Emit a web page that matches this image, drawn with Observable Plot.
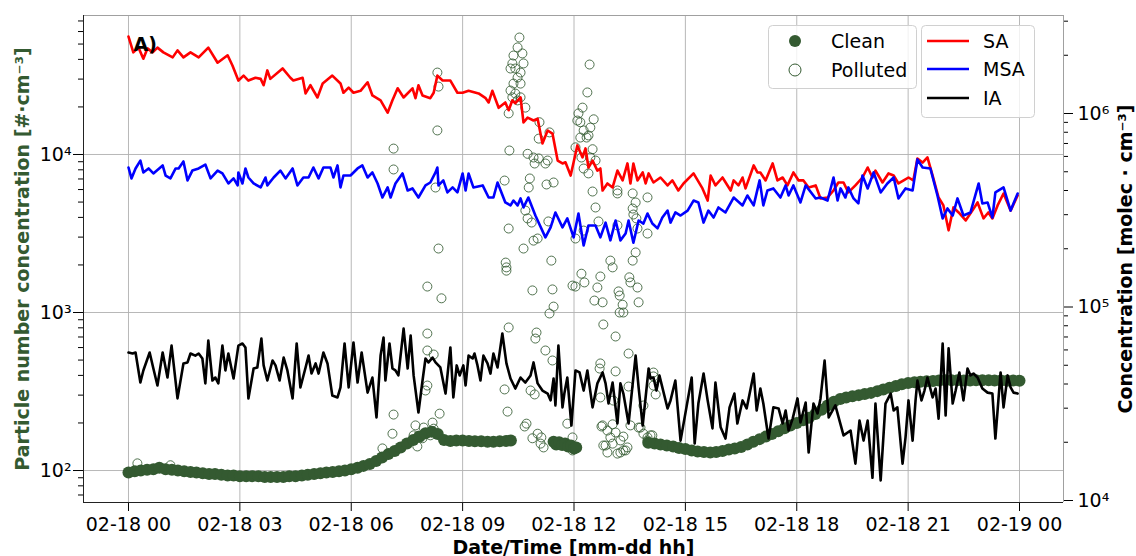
<!DOCTYPE html>
<html><head><meta charset="utf-8">
<script src="https://cdn.jsdelivr.net/npm/d3@7"></script>
<script src="https://cdn.jsdelivr.net/npm/@observablehq/plot@0.6"></script>
<style>
body{margin:0;background:#fff;}
#wrap{position:relative;width:1136px;height:556px;font-family:"DejaVu Sans",sans-serif;}
</style></head><body><div id="wrap"></div>
<script>
// ---- data: time in hours since 02-18 00:00 ----
const xTickHours = [0,3,6,9,12,15,18,21,24];
const leftMajor = [100,1000,10000];
const leftMinor = [70,80,90,200,300,400,500,600,700,800,900,2000,3000,4000,5000,6000,7000,8000,9000,20000,30000,40000,50000,60000,70000];
const rightMajor = [1e4,1e5,1e6];
const rightMinor = [2e4,3e4,4e4,5e4,6e4,7e4,8e4,9e4,2e5,3e5,4e5,5e5,6e5,7e5,8e5,9e5,2e6,3e6];
const legendScatter = ["Clean","Polluted"];
const legendLines = ["SA","MSA","IA"];

// SA [h, molec cm-3]
const saSeries = [[0.00,2.50e6],[0.13,2.07e6],[0.27,2.19e6],[0.40,1.92e6],[0.51,2.17e6],[0.65,2.07e6],[0.78,2.19e6],[0.94,2.07e6],[1.19,1.95e6],[1.32,2.12e6],[1.48,1.95e6],[1.67,2.07e6],[1.89,1.95e6],[2.15,2.19e6],[2.40,1.83e6],[2.67,2.0e6],[2.80,1.77e6],[2.96,1.48e6],[3.10,1.57e6],[3.23,1.48e6],[3.42,1.53e6],[3.56,1.51e6],[3.64,1.40e6],[3.74,1.67e6],[3.82,1.51e6],[4.15,1.71e6],[4.36,1.53e6],[4.44,1.48e6],[4.69,1.53e6],[4.77,1.27e6],[4.90,1.40e6],[5.09,1.21e6],[5.23,1.43e6],[5.49,1.57e6],[5.71,1.43e6],[5.79,1.28e6],[5.93,1.36e6],[6.06,1.28e6],[6.25,1.31e6],[6.44,1.45e6],[6.57,1.24e6],[6.79,1.17e6],[6.98,1.01e6],[7.11,1.17e6],[7.25,1.35e6],[7.41,1.21e6],[7.65,1.35e6],[7.73,1.20e6],[7.81,1.40e6],[7.92,1.24e6],[8.13,1.20e6],[8.22,1.28e6],[8.32,1.57e6],[8.46,1.48e6],[8.67,1.48e6],[8.86,1.28e6],[9.00,1.28e6],[9.16,1.31e6],[9.43,1.27e6],[9.62,1.20e6],[9.70,1.14e6],[9.80,1.31e6],[9.97,1.07e6],[10.15,1.14e6],[10.24,1.04e6],[10.34,1.17e6],[10.42,1.13e6],[10.56,1.21e6],[10.64,8.98e5],[10.75,9.53e5],[10.91,9.2e5],[11.02,9.4e5],[11.15,7.0e5],[11.29,8.17e5],[11.42,7.88e5],[11.56,5.71e5],[11.69,5.52e5],[11.77,5.6e5],[11.91,4.78e5],[12.09,6.84e5],[12.23,5.93e5],[12.31,6.6e5],[12.39,5.26e5],[12.50,5.71e5],[12.63,5.07e5],[12.71,5.2e5],[12.77,4.0e5],[12.90,4.35e5],[13.04,4.15e5],[13.17,5.07e5],[13.31,4.51e5],[13.44,5.52e5],[13.52,4.35e5],[13.60,5.52e5],[13.71,4.51e5],[13.85,4.96e5],[13.93,4.35e5],[14.01,4.9e5],[14.14,4.4e5],[14.33,4.67e5],[14.52,4.25e5],[14.65,4.51e5],[14.81,4.0e5],[14.95,4.35e5],[15.22,4.9e5],[15.46,4.1e5],[15.60,3.55e5],[15.68,4.78e5],[15.81,4.25e5],[16.00,4.67e5],[16.22,4.0e5],[16.30,4.51e5],[16.43,4.25e5],[16.54,4.67e5],[16.62,4.1e5],[16.84,5.39e5],[16.94,4.96e5],[17.02,4.96e5],[17.16,4.51e5],[17.35,5.52e5],[17.48,4.51e5],[17.62,4.67e5],[17.75,4.25e5],[17.91,4.96e5],[18.05,4.51e5],[18.18,4.51e5],[18.32,4.15e5],[18.51,4.25e5],[18.64,3.64e5],[18.83,3.68e5],[18.99,4.0e5],[19.12,4.4e5],[19.26,4.4e5],[19.39,3.91e5],[19.58,4.25e5],[19.77,4.67e5],[19.91,5.26e5],[20.04,4.67e5],[20.12,5.07e5],[20.31,4.4e5],[20.47,4.9e5],[20.61,4.78e5],[20.74,4.35e5],[20.88,4.51e5],[21.01,4.67e5],[21.14,4.51e5],[21.25,5.85e5],[21.39,5.58e5],[21.52,5.93e5],[21.66,4.78e5],[21.82,3.68e5],[21.95,3.35e5],[22.09,2.49e5],[22.22,3.27e5],[22.36,3.08e5],[22.55,2.80e5],[22.73,3.15e5],[22.87,3.47e5],[23.03,2.87e5],[23.16,3.08e5],[23.27,2.87e5],[23.41,3.35e5],[23.57,3.86e5],[23.76,3.15e5],[23.95,3.77e5]];

// MSA [h, molec cm-3]
const msaSeries = [[0.00,5.26e5],[0.08,4.62e5],[0.19,5.20e5],[0.32,5.71e5],[0.40,4.96e5],[0.54,5.20e5],[0.67,4.90e5],[0.92,5.39e5],[1.00,4.78e5],[1.13,4.62e5],[1.27,5.20e5],[1.35,5.20e5],[1.48,5.65e5],[1.59,4.51e5],[1.72,5.07e5],[1.89,5.20e5],[2.07,5.45e5],[2.21,4.62e5],[2.40,5.07e5],[2.53,4.90e5],[2.69,4.35e5],[2.83,4.62e5],[2.94,4.25e5],[2.96,4.96e5],[3.07,4.35e5],[3.15,5.20e5],[3.23,4.67e5],[3.37,4.35e5],[3.56,4.15e5],[3.69,4.67e5],[3.74,4.25e5],[3.91,4.67e5],[4.09,5.07e5],[4.23,4.62e5],[4.42,5.20e5],[4.55,4.25e5],[4.71,4.67e5],[4.85,4.67e5],[4.98,5.26e5],[5.12,4.62e5],[5.25,5.26e5],[5.44,5.26e5],[5.52,4.67e5],[5.63,5.39e5],[5.71,4.15e5],[5.79,4.78e5],[5.98,4.78e5],[6.17,5.20e5],[6.30,5.39e5],[6.44,4.67e5],[6.57,4.96e5],[6.71,4.35e5],[6.84,3.68e5],[6.98,4.15e5],[7.06,3.68e5],[7.19,4.35e5],[7.38,4.90e5],[7.52,4.0e5],[7.65,4.10e5],[7.81,3.68e5],[8.00,4.25e5],[8.13,4.40e5],[8.27,4.96e5],[8.32,5.26e5],[8.35,4.25e5],[8.48,4.51e5],[8.59,3.91e5],[8.73,4.15e5],[8.86,3.91e5],[9.00,4.90e5],[9.08,4.0e5],[9.16,4.90e5],[9.29,4.15e5],[9.54,4.25e5],[9.70,3.68e5],[9.83,3.68e5],[9.94,4.40e5],[10.15,3.47e5],[10.29,3.35e5],[10.37,3.55e5],[10.48,3.35e5],[10.56,3.64e5],[10.64,3.27e5],[10.77,3.68e5],[10.96,2.97e5],[11.23,2.29e5],[11.37,2.58e5],[11.50,3.08e5],[11.69,2.58e5],[11.82,2.87e5],[11.99,2.29e5],[12.12,3.04e5],[12.26,2.08e5],[12.39,2.64e5],[12.58,2.64e5],[12.71,2.29e5],[12.85,2.73e5],[12.98,2.21e5],[13.12,2.80e5],[13.25,2.21e5],[13.39,2.40e5],[13.47,2.80e5],[13.60,2.15e5],[13.74,2.80e5],[13.87,2.70e5],[13.98,3.04e5],[14.11,2.70e5],[14.25,2.55e5],[14.38,2.90e5],[14.52,3.15e5],[14.60,2.73e5],[14.73,3.08e5],[14.87,2.97e5],[15.06,3.15e5],[15.22,3.55e5],[15.35,3.47e5],[15.49,2.73e5],[15.62,3.15e5],[15.76,2.90e5],[15.89,3.27e5],[16.08,3.08e5],[16.30,3.68e5],[16.54,3.35e5],[16.67,3.77e5],[16.84,3.35e5],[17.00,4.51e5],[17.10,3.35e5],[17.21,4.0e5],[17.37,4.10e5],[17.56,3.68e5],[17.70,4.25e5],[17.78,3.77e5],[17.91,4.25e5],[18.10,3.47e5],[18.24,4.25e5],[18.51,3.64e5],[18.64,3.68e5],[18.83,3.55e5],[18.99,4.67e5],[19.10,3.55e5],[19.18,4.10e5],[19.31,3.68e5],[19.39,4.15e5],[19.53,3.64e5],[19.66,3.43e5],[19.77,4.78e5],[19.91,4.10e5],[20.07,4.96e5],[20.26,3.91e5],[20.44,4.35e5],[20.61,4.67e5],[20.74,3.64e5],[20.93,4.10e5],[21.12,4.0e5],[21.25,5.79e5],[21.39,5.26e5],[21.60,5.20e5],[21.79,3.77e5],[21.93,2.87e5],[22.06,3.23e5],[22.20,2.97e5],[22.33,3.64e5],[22.49,2.97e5],[22.68,3.08e5],[22.90,4.35e5],[23.00,3.43e5],[23.14,3.47e5],[23.27,2.90e5],[23.35,3.91e5],[23.57,4.15e5],[23.76,3.15e5],[23.95,3.86e5]];

// IA [h, molec cm-3]
const iaSeries = [[0.00,5.82e4],[0.11,5.75e4],[0.19,5.82e4],[0.32,4.07e4],[0.40,4.70e4],[0.57,5.82e4],[0.67,4.81e4],[0.78,3.93e4],[0.92,5.82e4],[1.05,4.32e4],[1.16,6.32e4],[1.32,3.37e4],[1.48,5.11e4],[1.59,5.17e4],[1.67,5.75e4],[1.80,5.61e4],[1.89,5.75e4],[1.99,5.42e4],[2.07,4.03e4],[2.15,6.71e4],[2.26,4.17e4],[2.34,4.32e4],[2.42,4.03e4],[2.53,6.32e4],[2.61,4.70e4],[2.69,5.75e4],[2.83,4.27e4],[2.96,6.32e4],[3.07,6.48e4],[3.15,6.18e4],[3.23,3.37e4],[3.37,4.81e4],[3.47,4.87e4],[3.58,6.87e4],[3.64,4.99e4],[3.74,4.17e4],[3.88,5.29e4],[3.96,4.99e4],[4.07,4.17e4],[4.18,5.48e4],[4.28,4.70e4],[4.42,3.37e4],[4.53,6.48e4],[4.63,3.84e4],[4.77,4.87e4],[4.85,5.61e4],[4.93,4.53e4],[5.04,5.11e4],[5.12,4.53e4],[5.25,5.82e4],[5.36,5.11e4],[5.49,3.49e4],[5.63,3.41e4],[5.71,3.84e4],[5.82,6.48e4],[5.93,3.84e4],[6.06,6.56e4],[6.17,4.07e4],[6.28,5.82e4],[6.44,3.61e4],[6.57,4.32e4],[6.68,2.69e4],[6.79,5.61e4],[6.87,6.95e4],[6.92,4.17e4],[7.03,6.48e4],[7.11,4.81e4],[7.19,4.70e4],[7.27,4.43e4],[7.41,7.74e4],[7.52,4.81e4],[7.60,7.12e4],[7.68,4.43e4],[7.81,2.85e4],[7.92,4.17e4],[8.00,5.42e4],[8.08,5.17e4],[8.19,5.48e4],[8.27,5.17e4],[8.40,4.87e4],[8.54,3.57e4],[8.67,6.18e4],[8.75,3.41e4],[8.84,4.99e4],[8.92,4.43e4],[9.02,4.99e4],[9.08,3.93e4],[9.16,5.61e4],[9.27,5.42e4],[9.32,5.75e4],[9.40,4.99e4],[9.48,4.17e4],[9.56,5.61e4],[9.67,5.11e4],[9.75,4.53e4],[9.83,5.75e4],[9.94,4.87e4],[10.07,7.30e4],[10.18,5.11e4],[10.29,4.27e4],[10.42,3.79e4],[10.56,4.32e4],[10.69,4.07e4],[10.83,4.43e4],[10.91,5.17e4],[11.02,4.03e4],[11.15,3.70e4],[11.29,3.57e4],[11.37,3.29e4],[11.45,4.27e4],[11.50,3.10e4],[11.58,6.32e4],[11.69,3.03e4],[11.74,3.57e4],[11.82,4.32e4],[11.93,2.44e4],[12.04,4.70e4],[12.15,4.59e4],[12.26,3.70e4],[12.36,4.70e4],[12.50,3.03e4],[12.63,4.03e4],[12.77,4.59e4],[12.85,4.03e4],[12.93,3.17e4],[13.04,4.07e4],[13.17,2.50e4],[13.25,4.03e4],[13.33,3.57e4],[13.47,2.50e4],[13.66,5.61e4],[13.74,3.84e4],[13.85,2.44e4],[14.01,4.81e4],[14.06,4.27e4],[14.14,4.32e4],[14.22,3.70e4],[14.30,4.43e4],[14.52,2.99e4],[14.60,3.29e4],[14.73,4.17e4],[14.87,2.04e4],[15.00,2.82e4],[15.17,4.32e4],[15.25,1.97e4],[15.35,3.17e4],[15.49,4.53e4],[15.60,3.29e4],[15.73,2.36e4],[15.81,4.07e4],[15.95,2.39e4],[16.08,2.09e4],[16.19,3.03e4],[16.32,3.57e4],[16.40,2.50e4],[16.54,3.29e4],[16.65,2.99e4],[16.84,4.53e4],[16.92,2.92e4],[17.02,3.79e4],[17.10,3.17e4],[17.24,2.09e4],[17.37,3.03e4],[17.51,2.99e4],[17.62,2.50e4],[17.70,2.92e4],[17.78,2.30e4],[17.89,2.65e4],[18.02,3.37e4],[18.10,2.53e4],[18.24,3.21e4],[18.32,1.77e4],[18.45,3.17e4],[18.56,2.82e4],[18.64,3.37e4],[18.75,5.29e4],[18.86,2.69e4],[19.04,3.10e4],[19.26,2.17e4],[19.45,2.30e4],[19.58,1.55e4],[19.69,2.59e4],[19.80,2.04e4],[19.91,2.59e4],[20.04,1.31e4],[20.12,3.17e4],[20.26,1.27e4],[20.39,3.17e4],[20.53,3.57e4],[20.61,2.92e4],[20.71,3.03e4],[20.85,1.55e4],[20.93,2.12e4],[21.01,3.29e4],[21.12,2.04e4],[21.20,3.29e4],[21.25,4.17e4],[21.36,3.29e4],[21.44,3.70e4],[21.52,4.32e4],[21.66,3.41e4],[21.74,3.79e4],[21.82,2.65e4],[21.93,6.48e4],[22.01,2.75e4],[22.09,6.11e4],[22.20,3.17e4],[22.28,3.70e4],[22.38,4.59e4],[22.49,3.29e4],[22.60,4.81e4],[22.68,4.43e4],[22.76,4.53e4],[22.87,4.32e4],[23.00,3.79e4],[23.14,3.61e4],[23.27,3.57e4],[23.35,2.09e4],[23.49,4.59e4],[23.57,3.03e4],[23.68,4.43e4],[23.76,3.84e4],[23.84,3.61e4],[23.95,3.57e4]];

// Clean particle number concentration [h, # cm-3]
const cleanSeries = [[0.0,97],[0.17,99],[0.33,100],[0.5,101],[0.67,102],[0.83,104],[1.0,102],[1.17,101],[1.33,100],[1.5,99],[1.67,98],[1.83,97],[2.0,96],[2.17,95],[2.33,95],[2.5,94],[2.67,93],[2.83,93],[3.0,92],[3.17,92],[3.33,92],[3.5,92],[3.67,91],[3.83,91],[4.0,91],[4.17,91],[4.33,92],[4.5,92],[4.67,93],[4.83,94],[5.0,95],[5.17,96],[5.33,97],[5.5,98],[5.67,99],[5.83,100],[6.0,102],[6.17,104],[6.33,107],[6.5,110],[6.67,115],[6.83,121],[7.0,127],[7.17,133],[7.33,140],[7.5,148],[7.67,156],[7.83,164],[8.0,172],[8.17,176],[8.33,170],[8.5,156],[8.67,154],[8.83,155],[9.0,155],[9.17,154],[9.33,153],[9.5,153],[9.67,152],[9.83,152],[10.0,153],[10.17,154],[10.3,155],
[11.45,152],[11.52,146],[11.6,151],[11.68,145],[11.76,148],[11.84,142],[11.92,144],[12.0,138],[12.06,140],
[14.0,150],[14.17,148],[14.33,146],[14.5,144],[14.67,142],[14.83,139],[15.0,137],[15.17,134],[15.33,132],[15.5,131],[15.67,130],[15.83,131],[16.0,133],[16.17,136],[16.33,138],[16.5,141],[16.67,146],[16.83,152],[17.0,158],[17.17,164],[17.33,170],[17.5,177],[17.67,185],[17.83,193],[18.0,200],[18.17,208],[18.33,216],[18.5,228],[18.67,242],[18.83,258],[19.0,272],[19.17,284],[19.33,290],[19.5,295],[19.67,300],[19.83,305],[20.0,310],[20.17,318],[20.33,326],[20.5,334],[20.67,343],[20.83,352],[21.0,358],[21.17,362],[21.33,365],[21.5,367],[21.67,369],[21.83,371],[22.0,372],[22.17,372],[22.33,372],[22.5,371],[22.67,371],[22.83,372],[23.0,373],[23.17,372],[23.33,371],[23.5,371],[23.67,370],[23.83,371],[24.0,370]];

// Polluted particle number concentration [h, # cm-3]
const pollutedSeries = [[0.24,111],[1.13,108],[6.84,138],[7.11,171],[7.14,226],[7.14,8040],[7.14,10900],[7.68,167],[7.73,193],[7.78,142],[7.87,162],[7.92,160],[7.95,187],[8.0,321],[8.05,345],[8.05,575],[8.05,736],[8.05,1460],[8.13,167],[8.19,201],[8.22,184],[8.22,542],[8.27,6180],[8.32,33000],[8.32,14200],[8.35,26900],[8.35,2540],[8.38,229],[8.43,1230],
[10.13,326],[10.13,6840],[10.16,2070],[10.18,1930],[10.18,1840],[10.21,236],[10.24,804],[10.24,3400],[10.24,18200],[10.26,10600],[10.29,35000],[10.29,25400],[10.34,37700],[10.34,23000],[10.37,42300],[10.37,28100],[10.42,35000],[10.42,24300],[10.48,47600],[10.48,30700],[10.48,22000],[10.53,55000],[10.56,33000],[10.56,28100],[10.56,23000],[10.61,43600],[10.64,37700],[10.64,2540],[10.67,190],[10.69,19800],[10.69,4420],[10.72,198],[10.75,10100],[10.75,3940],[10.78,6180],[10.81,7050],[10.83,321],[10.86,3710],[10.88,1380],[10.88,160],[10.91,9570],[10.91,2850],[10.94,8770],[10.94,303],[10.96,684],[10.99,747],[11.02,2940],[11.02,171],[11.05,12600],[11.05,9440],[11.07,16000],[11.10,148],[11.12,162],[11.18,140],[11.23,8770],[11.23,575],[11.26,6460],[11.29,9160],[11.31,3770],[11.34,13800],[11.34,986],[11.39,2130],[11.42,1400],[11.42,497],[11.45,6650],[11.45,1090],
[11.82,198],[11.96,1480],[11.96,162],[11.96,134],[12.04,11100],[12.04,2940],[12.04,1460],[12.09,16400],[12.12,18200],[12.17,16000],[12.17,12800],[12.20,9570],[12.20,1760],[12.23,19800],[12.26,14200],[12.26,8150],[12.26,3300],[12.28,1550],[12.34,12800],[12.36,24700],[12.39,13200],[12.39,7590],[12.42,37100],[12.44,14800],[12.44,9570],[12.50,10800],[12.50,5830],[12.53,16700],[12.55,1190],[12.58,9160],[12.58,4620],[12.63,1440],[12.66,3770],[12.69,442],[12.71,1690],[12.71,476],[12.71,290],[12.74,190],[12.77,1160],[12.77,193],[12.79,840],[12.79,144],[12.85,144],[12.90,179],[12.90,130],[12.98,2130],[12.98,162],[13.04,1930],[13.04,196],[13.04,148],[13.06,277],[13.12,705],[13.12,424],[13.12,174],[13.17,5920],[13.17,5670],[13.17,3560],[13.17,128],[13.20,1360],[13.23,1280],[13.23,1000],[13.25,155],[13.25,130],[13.31,1120],[13.33,1000],[13.33,164],[13.33,134],[13.39,134],[13.44,140],[13.47,550],[13.47,340],[13.49,1670],[13.52,1550],[13.52,193],[13.58,5670],[13.58,4550],[13.58,2130],[13.60,4170],[13.66,4970],[13.66,2400],[13.68,3940],[13.71,3400],[13.71,1440],[13.74,1160],[13.74,187],[13.79,187],[13.87,258],[13.87,171],[13.98,5350],[13.98,3160],[13.98,162],[13.98,155],[14.06,167],[14.11,167],[14.14,417],[14.14,394],[14.14,345],[14.20,303]];

// ---- scales ----
const T0 = Date.UTC(2020, 1, 18);
const t = h => new Date(T0 + h * 3600000);
const xMinH = -1.212, xMaxH = 25.185, pxPerHour = 37.125;
const leftDomain = [62.75, 75800];
const rightDomain = [9765, 3.21e6];
const L0 = Math.log10(leftDomain[0]), L1 = Math.log10(leftDomain[1]);
const R0 = Math.log10(rightDomain[0]), R1 = Math.log10(rightDomain[1]);
const toLeft = v => Math.pow(10, L0 + (Math.log10(v) - R0) / (R1 - R0) * (L1 - L0));
const supDigits = {"0":"⁰","1":"¹","2":"²","3":"³","4":"⁴","5":"⁵","6":"⁶","7":"⁷","8":"⁸","9":"⁹"};
const pow10 = v => "10" + String(Math.round(Math.log10(v))).split("").map(c => supDigits[c]).join("");

const green = "#345a31";
const fx = d => t(d[0]);
const rightEdge = t(xMaxH);

const chart = Plot.plot({
  width: 1136, height: 556,
  marginLeft: 83, marginRight: 73, marginTop: 15, marginBottom: 54,
  style: {fontFamily: '"DejaVu Sans", sans-serif', fontSize: "19px", background: "white", color: "black", overflow: "visible"},
  x: {type: "utc", domain: [t(xMinH), t(xMaxH)]},
  y: {type: "log", domain: leftDomain},
  marks: [
    Plot.gridX(xTickHours.map(t), {stroke: "#b0b0b0", strokeOpacity: 1, strokeWidth: 0.9}),
    Plot.gridY(leftMajor, {stroke: "#b0b0b0", strokeOpacity: 1, strokeWidth: 0.9}),
    Plot.dot(cleanSeries, {x: fx, y: d => d[1], r: 6, fill: green, stroke: null}),
    Plot.dot(pollutedSeries, {x: fx, y: d => d[1], r: 4.5, fill: "none", stroke: green, strokeWidth: 1, strokeOpacity: 0.85}),
    Plot.line(saSeries, {x: fx, y: d => toLeft(d[1]), stroke: "#ff0000", strokeWidth: 2.6}),
    Plot.line(msaSeries, {x: fx, y: d => toLeft(d[1]), stroke: "#0000ff", strokeWidth: 2.6}),
    Plot.line(iaSeries, {x: fx, y: d => toLeft(d[1]), stroke: "#000000", strokeWidth: 2.6}),
    Plot.axisX(xTickHours.map(t), {tickFormat: d3.utcFormat("%m-%d %H"), tickSize: 9, tickPadding: 6, fontSize: 19, label: null}),
    Plot.axisY(leftMajor, {anchor: "left", tickSize: 10, tickPadding: 2, fontSize: 19, tickFormat: pow10, label: null}),
    Plot.axisY(leftMinor, {anchor: "left", tickSize: 5, tickFormat: () => "", label: null}),
    // right axis (second scale), drawn through the y scale after mapping
    Plot.ruleY(rightMajor, {y: toLeft, x1: rightEdge, x2: t(xMaxH + 10 / pxPerHour), stroke: "black", strokeWidth: 1}),
    Plot.ruleY(rightMinor, {y: toLeft, x1: rightEdge, x2: t(xMaxH + 5 / pxPerHour), stroke: "black", strokeWidth: 1}),
    Plot.text(rightMajor, {y: toLeft, x: t(xMaxH + 14 / pxPerHour), text: pow10, textAnchor: "start", lineAnchor: "middle", fontSize: 19, fill: "black"}),
    Plot.ruleY([leftDomain[1]], {stroke: "#a0a0a0", strokeWidth: 1}),
    Plot.ruleX([rightEdge], {stroke: "#a0a0a0", strokeWidth: 1}),
    Plot.ruleX([t(xMinH)], {stroke: "#222", strokeWidth: 1}),
    Plot.ruleY([leftDomain[0]], {stroke: "#222", strokeWidth: 1}),
    Plot.text(["A)"], {frameAnchor: "top-left", dx: 50, dy: 29, textAnchor: "start", lineAnchor: "middle", fontWeight: "bold", fontSize: 19}),
    Plot.text(["Particle number concentration [#·cm⁻³]"], {frameAnchor: "left", dx: -61, rotate: -90, textAnchor: "middle", lineAnchor: "middle", fontWeight: "bold", fontSize: 19, fill: green}),
    Plot.text(["Concentration [molec · cm⁻³]"], {frameAnchor: "right", dx: 62, rotate: -90, textAnchor: "middle", lineAnchor: "middle", fontWeight: "bold", fontSize: 19}),
    Plot.text(["Date/Time [mm-dd hh]"], {frameAnchor: "bottom", dy: 45, textAnchor: "middle", lineAnchor: "middle", fontWeight: "bold", fontSize: 19})
  ]
});
const wrap = document.getElementById("wrap");
wrap.appendChild(chart);

// ---- legends (overlay) ----
const leg = d3.select(wrap).append("svg")
  .attr("width", 1136).attr("height", 556)
  .style("position", "absolute").style("left", "0px").style("top", "0px")
  .style("font-family", '"DejaVu Sans", sans-serif').style("font-size", "19px");
function box(x, y, w, h) {
  leg.append("rect").attr("x", x + 0.5).attr("y", y + 0.5).attr("width", w).attr("height", h)
    .attr("rx", 4).attr("fill", "white").attr("fill-opacity", 0.8).attr("stroke", "#d0d0d0");
}
box(768, 25, 148, 63);
box(921, 25, 113, 92);
const scatterY = [41, 70];
legendScatter.forEach((name, i) => {
  const c = leg.append("circle").attr("cx", 795).attr("cy", scatterY[i]).attr("r", 6);
  if (i === 0) c.attr("fill", green);
  else c.attr("fill", "none").attr("stroke", green).attr("stroke-width", 1);
  leg.append("text").attr("x", 831).attr("y", scatterY[i]).attr("dy", "0.36em").text(name);
});
const lineY = [41, 69, 98];
const lineColors = ["#ff0000", "#0000ff", "#000000"];
legendLines.forEach((name, i) => {
  leg.append("line").attr("x1", 927).attr("x2", 969).attr("y1", lineY[i]).attr("y2", lineY[i])
    .attr("stroke", lineColors[i]).attr("stroke-width", 2.6);
  leg.append("text").attr("x", 983).attr("y", lineY[i]).attr("dy", "0.36em").text(name);
});
</script></body></html>
